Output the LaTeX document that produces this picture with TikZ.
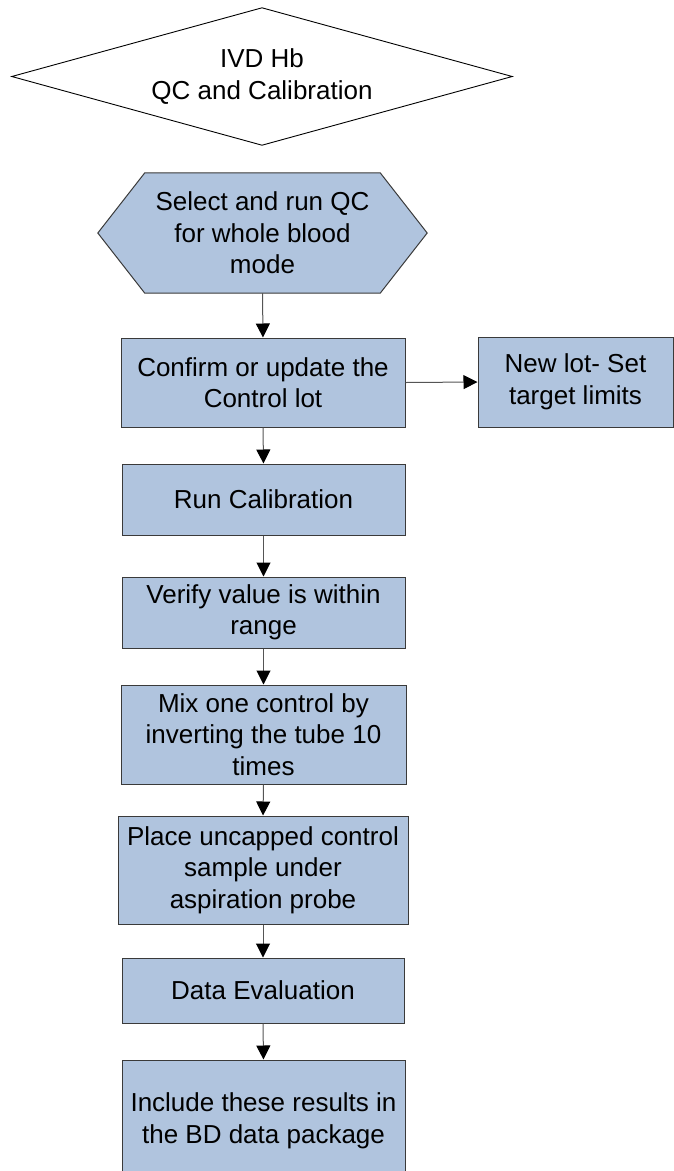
\documentclass[tikz,border=0pt]{standalone}
\usepackage{fontspec}
\setmainfont{Liberation Sans}
\usetikzlibrary{arrows.meta}
\pgfdeclarelayer{background}
\pgfsetlayers{background,main}
\definecolor{boxfill}{HTML}{B0C4DE}
\definecolor{boxline}{HTML}{3A3A3A}
\definecolor{conline}{HTML}{555555}
\begin{document}
\begin{tikzpicture}[x=1pt,y=-1pt,
  every node/.style={font=\fontsize{26}{31.5}\selectfont, text=black, align=center, inner sep=0pt},
  stepbox/.style={draw=boxline, line width=1pt, fill=boxfill, rectangle},
  shapebox/.style={rectangle},
  conn/.style={draw=conline, line width=1pt, -{Triangle[length=14pt,width=14pt,fill=black,color=black]}}
]
\useasboundingbox (0,0) rectangle (674,1171);
% title diamond
\node[shapebox, minimum width=500pt, minimum height=137pt] (title) at (262,76.5) {IVD Hb\\QC and Calibration};
% hexagon
\node[shapebox, minimum width=329pt, minimum height=120pt] (hex) at (262.5,233) {Select and run QC\\for whole blood\\mode};
\node[stepbox, minimum width=284pt, minimum height=89pt] (confirm) at (263,382.5) {Confirm or update the\\Control lot};
\node[stepbox, minimum width=195pt, minimum height=90pt] (newlot) at (575.5,382) {New lot- Set\\target limits};
\node[stepbox, minimum width=283pt, minimum height=71pt] (runcal) at (263.5,499.5) {Run Calibration};
\node[stepbox, minimum width=283pt, minimum height=71pt] (verify) at (263.5,612.5) {Verify value is within\\range};
\node[stepbox, minimum width=285pt, minimum height=99pt] (mix) at (263.5,734.5) {Mix one control by\\inverting the tube 10\\times};
\node[stepbox, minimum width=290pt, minimum height=108pt] (place) at (263,870) {Place uncapped control\\sample under\\aspiration probe};
\node[stepbox, minimum width=282pt, minimum height=65pt] (data) at (263,990.5) {Data Evaluation};
\node[stepbox, minimum width=283pt, minimum height=122pt] (include) at (263.5,1121) {Include these results in\\the BD data package};
\begin{pgfonlayer}{background}
\draw[black, line width=0.9pt] (title.west) -- (title.north) -- (title.east) -- (title.south) -- cycle;
\draw[draw=boxline, line width=1pt, fill=boxfill] (hex.west) -- ([xshift=47pt]hex.north west) -- ([xshift=-47pt]hex.north east) -- (hex.east) -- ([xshift=-47pt]hex.south east) -- ([xshift=47pt]hex.south west) -- cycle;
\end{pgfonlayer}
\draw[conn] (hex.south) -- (confirm.north);
\draw[conn] (confirm.east) -- (newlot.west);
\draw[conn] (confirm.south) -- (runcal.north);
\draw[conn] (runcal.south) -- (verify.north);
\draw[conn] (verify.south) -- (mix.north);
\draw[conn] (mix.south) -- (place.north);
\draw[conn] (place.south) -- (data.north);
\draw[conn] (data.south) -- (include.north);
\end{tikzpicture}
\end{document}
